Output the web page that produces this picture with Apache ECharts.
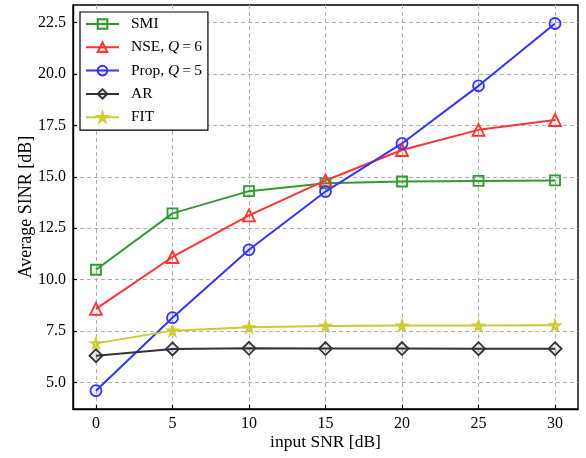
<!DOCTYPE html>
<html>
<head>
<meta charset="utf-8">
<script src="https://cdn.jsdelivr.net/npm/echarts@6/dist/echarts.min.js"></script>
<style>
  html, body { margin: 0; padding: 0; background: #fff; }
  #chart { width: 586px; height: 458px; }
</style>
</head>
<body>
<div id="chart"></div>
<script>
// Input SNR values (dB) on the horizontal axis
const snr = [0, 5, 10, 15, 20, 25, 30];

// Average output SINR (dB) for each method
const smi  = [10.48, 13.22, 14.30, 14.68, 14.77, 14.80, 14.82];
const nse  = [8.58, 11.10, 13.12, 14.82, 16.30, 17.28, 17.76];
const prop = [4.60, 8.15, 11.45, 14.28, 16.62, 19.42, 22.45];
const ar   = [6.30, 6.63, 6.66, 6.65, 6.65, 6.64, 6.64];
const fit  = [6.90, 7.52, 7.68, 7.75, 7.77, 7.77, 7.78];

// Tick positions
const xTicks = [0, 5, 10, 15, 20, 25, 30];
const yTicks = [5.0, 7.5, 10.0, 12.5, 15.0, 17.5, 20.0, 22.5];

const FONT = '"Liberation Serif", "DejaVu Serif", serif';
const STAR = 'path://M50,0 L61,35 L98,35 L68,57 L79,91 L50,70 L21,91 L32,57 L2,35 L39,35 Z';

function pairs(ys) { return snr.map((x, i) => [x, ys[i]]); }

function mkSeries(name, ys, color, fill, symbol, size) {
  return {
    name: name,
    type: 'line',
    data: pairs(ys),
    symbol: symbol,
    symbolSize: size,
    showAllSymbol: true,
    lineStyle: { color: color, width: 2 },
    itemStyle: { color: fill, borderColor: color, borderWidth: 1.8 },
    emphasis: { disabled: true },
    animation: false,
    z: 3
  };
}

const chart = echarts.init(document.getElementById('chart'), null, { renderer: 'canvas' });

chart.setOption({
  backgroundColor: '#fff',
  animation: false,
  textStyle: { fontFamily: FONT },
  grid: {
    left: 73, right: 8, top: 5, bottom: 49,
    outerBoundsMode: 'none',
    containLabel: false,
    show: true, borderColor: '#000', borderWidth: 1.4, backgroundColor: 'transparent'
  },
  xAxis: {
    type: 'value',
    min: -1.5, max: 31.5,
    name: 'input SNR [dB]',
    nameLocation: 'middle',
    nameGap: 24,
    nameMoveOverlap: false,
    nameTextStyle: { fontFamily: FONT, fontSize: 17.5, color: '#000', verticalAlign: 'top' },
    axisLine: { show: true, onZero: false, lineStyle: { color: '#000', width: 1.4 } },
    axisTick: { show: true, inside: true, length: 4, lineStyle: { color: '#000', width: 1.2 }, customValues: xTicks },
    axisLabel: { customValues: xTicks, margin: 7, fontFamily: FONT, fontSize: 16, color: '#000',
                 formatter: v => String(v) },
    splitLine: { show: true, lineStyle: { color: '#b0b0b0', type: [4, 3], width: 1 } }
  },
  yAxis: {
    type: 'value',
    min: 3.71, max: 23.35,
    name: 'Average SINR [dB]',
    nameLocation: 'middle',
    nameRotate: 90,
    nameGap: 38,
    nameMoveOverlap: false,
    nameTextStyle: { fontFamily: FONT, fontSize: 18, color: '#000' },
    axisLine: { show: true, onZero: false, lineStyle: { color: '#000', width: 1.4 } },
    axisTick: { show: true, inside: true, length: 4, lineStyle: { color: '#000', width: 1.2 }, customValues: yTicks },
    axisLabel: { customValues: yTicks, margin: 7, fontFamily: FONT, fontSize: 16, color: '#000',
                 formatter: v => v.toFixed(1) },
    splitLine: { show: true, lineStyle: { color: '#b0b0b0', type: [4, 3], width: 1 } }
  },
  legend: {
    orient: 'vertical',
    left: 80, top: 12,
    backgroundColor: '#fff',
    borderColor: '#000',
    borderWidth: 1.2,
    borderRadius: 0,
    padding: [4, 6, 5, 5],
    itemWidth: 33,
    itemHeight: 12,
    itemGap: 7.3,
    textStyle: {
      fontFamily: FONT, fontSize: 15.5, color: '#000', padding: [0, 0, 0, 7],
      rich: {
        n: { fontFamily: FONT, fontSize: 15.5, color: '#000' },
        i: { fontFamily: FONT, fontSize: 15.5, color: '#000', fontStyle: 'italic' }
      }
    },
    formatter: function (name) {
      if (name === 'NSE, Q=6') return '{n|NSE, }{i|Q}{n|\u2009=\u20096}';
      if (name === 'Prop, Q=5') return '{n|Prop, }{i|Q}{n|\u2009=\u20095}';
      return '{n|' + name + '}';
    },
    data: ['SMI', 'NSE, Q=6', 'Prop, Q=5', 'AR', 'FIT']
  },
  series: [
    mkSeries('SMI', smi, '#339933', 'rgba(51,153,51,0.12)', 'rect', 10),
    mkSeries('NSE, Q=6', nse, '#ff3333', 'rgba(255,51,51,0.10)', 'triangle', 12),
    mkSeries('Prop, Q=5', prop, '#3333ff', 'rgba(51,51,255,0.10)', 'circle', 11),
    mkSeries('AR', ar, '#333333', 'rgba(51,51,51,0.12)', 'diamond', [13, 13]),
    mkSeries('FIT', fit, '#cbcb33', 'rgba(203,203,51,0.55)', STAR, 10)
  ]
});
</script>
</body>
</html>
